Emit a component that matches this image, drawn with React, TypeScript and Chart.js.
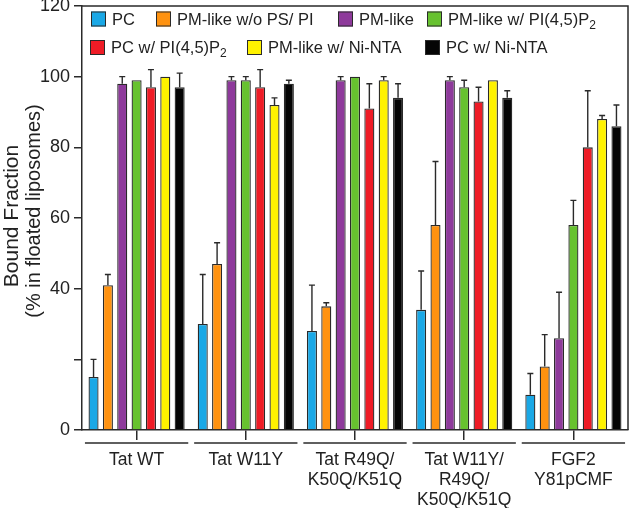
import { useEffect, useRef } from "react";
import { Chart, registerables } from "chart.js";

Chart.register(...registerables);

// ---- data ----
const categories: string[][] = [
  ["Tat WT"],
  ["Tat W11Y"],
  ["Tat R49Q/", "K50Q/K51Q"],
  ["Tat W11Y/", "R49Q/", "K50Q/K51Q"],
  ["FGF2", "Y81pCMF"],
];

const seriesNames = [
  "PC",
  "PM-like w/o PS/ PI",
  "PM-like",
  "PM-like w/ PI(4,5)P₂",
  "PC w/ PI(4,5)P₂",
  "PM-like w/ Ni-NTA",
  "PC w/ Ni-NTA",
];

const seriesColors = ["#1aa8e6", "#ff9210", "#8e3a9b", "#67c22f", "#ee1c26", "#fff200", "#050505"];

const pcValues = [15, 30, 28, 34, 10];
const pmNoPsValues = [41, 47, 35, 58, 18];
const pmLikeValues = [98, 99, 99, 99, 26];
const pmPip2Values = [99, 99, 100, 97, 58];
const pcPip2Values = [97, 97, 91, 93, 80];
const pmNiValues = [100, 92, 99, 99, 88];
const pcNiValues = [97, 98, 94, 94, 86];

const pcErrors = [5, 14, 13, 11, 6];
const pmNoPsErrors = [3, 6, 1, 18, 9];
const pmLikeErrors = [2, 1, 1, 1, 13];
const pmPip2Errors = [0, 1, 0, 2, 7];
const pcPip2Errors = [5, 5, 7, 4, 16];
const pmNiErrors = [0, 2, 1, 0, 1];
const pcNiErrors = [4, 1, 4, 2, 6];

const yTicks = [0, 20, 40, 60, 80, 100, 120];
const hiddenTickLabels = [20];

const allValues = [pcValues, pmNoPsValues, pmLikeValues, pmPip2Values, pcPip2Values, pmNiValues, pcNiValues];
const allErrors = [pcErrors, pmNoPsErrors, pmLikeErrors, pmPip2Errors, pcPip2Errors, pmNiErrors, pcNiErrors];

const FONT = "'Liberation Sans', Arial, Helvetica, sans-serif";
const INK = "#2a2a2a";

// draws text where "₂" is rendered as a lowered small "2"
function drawSubText(ctx: CanvasRenderingContext2D, text: string, x: number, y: number, size: number) {
  const parts = text.split("₂");
  let cx = x;
  parts.forEach((p, i) => {
    ctx.font = `${size}px ${FONT}`;
    ctx.fillText(p, cx, y);
    cx += ctx.measureText(p).width;
    if (i < parts.length - 1) {
      ctx.font = `${Math.round(size * 0.72)}px ${FONT}`;
      ctx.fillText("2", cx, y + size * 0.32);
      cx += ctx.measureText("2").width;
    }
  });
}

const errorBarPlugin = {
  id: "errorBars",
  afterDatasetsDraw(chart: any) {
    const ctx = chart.ctx;
    const y = chart.scales.y;
    ctx.save();
    ctx.strokeStyle = INK;
    ctx.lineWidth = 1.4;
    chart.data.datasets.forEach((ds: any, i: number) => {
      const meta = chart.getDatasetMeta(i);
      meta.data.forEach((el: any, j: number) => {
        const err = allErrors[i][j];
        if (!err) return;
        const top = y.getPixelForValue(ds.data[j] + err);
        ctx.beginPath();
        ctx.moveTo(el.x, el.y);
        ctx.lineTo(el.x, top);
        ctx.moveTo(el.x - 3, top);
        ctx.lineTo(el.x + 3, top);
        ctx.stroke();
      });
    });
    ctx.restore();
  },
};

const decorPlugin = {
  id: "decor",
  afterDraw(chart: any) {
    const ctx = chart.ctx;
    const a = chart.chartArea;
    const xs = chart.scales.x;
    ctx.save();
    // frame top + right
    ctx.strokeStyle = INK;
    ctx.lineWidth = 1.5;
    ctx.beginPath();
    ctx.moveTo(a.left, a.top);
    ctx.lineTo(a.right, a.top);
    ctx.lineTo(a.right, a.bottom);
    ctx.stroke();
    // group brackets
    const half = (xs.width / categories.length) * 0.473;
    ctx.lineWidth = 1.4;
    categories.forEach((_, i) => {
      const cx = xs.getPixelForValue(i);
      ctx.beginPath();
      ctx.moveTo(cx - half, a.bottom + 13);
      ctx.lineTo(cx + half, a.bottom + 13);
      ctx.stroke();
    });
    // y title
    ctx.fillStyle = "#222";
    ctx.textAlign = "center";
    ctx.textBaseline = "middle";
    ctx.font = `21px ${FONT}`;
    const cy = (a.top + a.bottom) / 2 - 2;
    ctx.save();
    ctx.translate(12, cy);
    ctx.rotate(-Math.PI / 2);
    ctx.fillText("Bound Fraction", 0, 0);
    ctx.restore();
    ctx.font = `20px ${FONT}`;
    ctx.save();
    ctx.translate(34, cy - 5);
    ctx.rotate(-Math.PI / 2);
    ctx.fillText("(% in floated liposomes)", 0, 0);
    ctx.restore();
    // legend
    const rows = [
      { y: 19, items: [0, 1, 2, 3], xs: [91, 156, 338, 427] },
      { y: 47.5, items: [4, 5, 6], xs: [90, 247, 425] },
    ];
    ctx.textAlign = "left";
    ctx.textBaseline = "middle";
    rows.forEach((r) => {
      r.items.forEach((idx, k) => {
        const x = r.xs[k];
        ctx.fillStyle = seriesColors[idx];
        ctx.fillRect(x, r.y - 7.5, 15, 15);
        ctx.strokeStyle = INK;
        ctx.lineWidth = 1;
        ctx.strokeRect(x + 0.5, r.y - 7, 14, 14);
        ctx.fillStyle = "#222";
        drawSubText(ctx, seriesNames[idx], x + 21, r.y + 1, 16.5);
      });
    });
    ctx.restore();
  },
};

export default function App() {
  const ref = useRef<HTMLCanvasElement>(null);
  useEffect(() => {
    document.body.style.margin = "0";
    const chart = new Chart(ref.current!, {
      type: "bar",
      data: {
        labels: categories,
        datasets: seriesNames.map((name, i) => ({
          label: name,
          data: allValues[i],
          backgroundColor: seriesColors[i],
          borderColor: INK,
          borderWidth: 1.3,
          categoryPercentage: 0.92,
          barPercentage: 0.7,
        })),
      },
      options: {
        animation: false,
        responsive: true,
        maintainAspectRatio: false,
        layout: { padding: { top: 6, right: 5, left: 0, bottom: 0 } },
        plugins: { legend: { display: false }, tooltip: { enabled: false } },
        scales: {
          x: {
            offset: true,
            grid: { offset: false, drawOnChartArea: false, tickLength: 10, color: INK, lineWidth: 1.5 },
            border: { color: INK, width: 1.5 },
            ticks: {
              font: { family: FONT, size: 17.5, lineHeight: 1.14 },
              color: "#222",
              padding: 10,
              maxRotation: 0,
              autoSkip: false,
            },
            afterFit: (s: any) => {
              s.height = 78;
              s.paddingLeft = 0;
              s.paddingRight = 0;
            },
          },
          y: {
            min: 0,
            max: 120,
            afterBuildTicks: (s: any) => {
              s.ticks = yTicks.map((v) => ({ value: v }));
            },
            grid: { drawOnChartArea: false, tickLength: 8, color: INK, lineWidth: 1.5 },
            border: { color: INK, width: 1.5 },
            ticks: {
              font: { family: FONT, size: 18 },
              color: "#222",
              padding: 4,
              callback: (v: any) => (hiddenTickLabels.includes(Number(v)) ? "" : String(v)),
            },
            afterFit: (s: any) => {
              s.width = 82;
              s.paddingTop = 0;
              s.paddingBottom = 0;
            },
          },
        },
      },
      plugins: [errorBarPlugin, decorPlugin],
    } as any);
    return () => chart.destroy();
  }, []);
  return (
    <div style={{ position: "relative", width: 633, height: 508 }}>
      <canvas ref={ref} />
    </div>
  );
}
